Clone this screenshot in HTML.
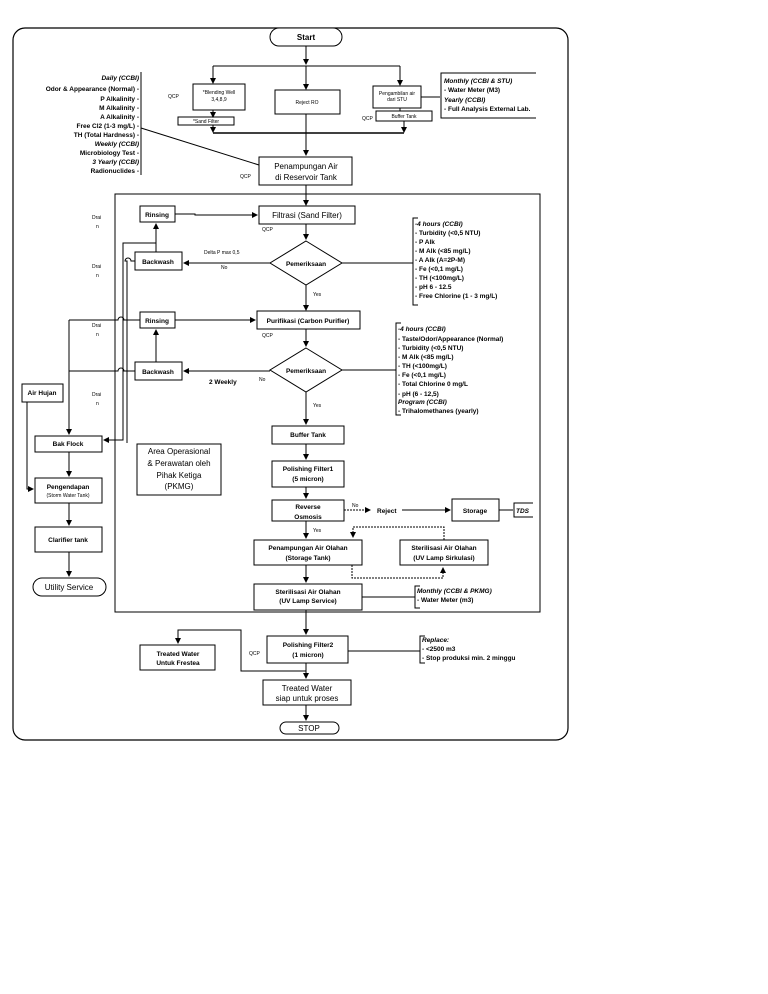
<!DOCTYPE html>
<html><head><meta charset="utf-8"><style>
html,body{margin:0;padding:0;background:#fff;}
svg{display:block;}
text{font-family:"Liberation Sans",sans-serif;fill:#000;}
.s{font-size:6.5px;font-weight:bold;}
.t{font-size:5px;}
.m{font-size:8px;}
</style></head><body>
<svg width="768" height="994" viewBox="0 0 768 994" xmlns="http://www.w3.org/2000/svg">
<defs><marker id="a" markerWidth="6" markerHeight="6" refX="5" refY="3" orient="auto" markerUnits="userSpaceOnUse"><path d="M0,0 L6,3 L0,6z" fill="#000"/></marker></defs>
<g fill="none" stroke="#000" stroke-width="1">
<rect x="13" y="28" width="555" height="712" rx="12" stroke-width="1.2"/>
<rect x="115" y="194" width="425" height="418"/>
<!-- top -->
<rect x="270" y="28" width="72" height="18" rx="9" fill="#fff"/>
<line x1="306" y1="46" x2="306" y2="64" marker-end="url(#a)"/>
<line x1="213" y1="66" x2="400" y2="66"/>
<line x1="213" y1="66" x2="213" y2="83" marker-end="url(#a)"/>
<line x1="306" y1="66" x2="306" y2="89" marker-end="url(#a)"/>
<line x1="400" y1="66" x2="400" y2="85" marker-end="url(#a)"/>
<rect x="193" y="84" width="52" height="26"/>
<line x1="213" y1="110" x2="213" y2="117" marker-end="url(#a)"/>
<rect x="178" y="117" width="56" height="8"/>
<rect x="275" y="90" width="65" height="24"/>
<rect x="373" y="86" width="48" height="22"/>
<line x1="400" y1="108" x2="400" y2="111" />
<rect x="376" y="111" width="56" height="10"/>
<line x1="421" y1="97" x2="440" y2="97"/>
<path d="M536,73 H441 V118 H536"/>
<line x1="213" y1="125" x2="213" y2="132" marker-end="url(#a)"/>
<line x1="404" y1="121" x2="404" y2="132" marker-end="url(#a)"/>
<line x1="306" y1="114" x2="306" y2="155" marker-end="url(#a)"/>
<line x1="213" y1="133" x2="404" y2="133" stroke-width="1.5"/>
<rect x="259" y="157" width="93" height="28"/>
<path d="M141,72 V175"/>
<line x1="141" y1="128" x2="259" y2="165"/>
<line x1="306" y1="185" x2="306" y2="205" marker-end="url(#a)"/>
<!-- filtrasi -->
<rect x="259" y="206" width="96" height="18"/>
<rect x="140" y="206" width="35" height="16"/>
<path d="M175,214 H195 V215 H257" marker-end="url(#a)"/>
<line x1="306" y1="224" x2="306" y2="239" marker-end="url(#a)"/>
<path d="M306,241 L342,263 L306,285 L270,263 Z"/>
<line x1="270" y1="263" x2="184" y2="263" marker-end="url(#a)"/>
<rect x="135" y="252" width="47" height="18"/>
<line x1="342" y1="263" x2="413" y2="263"/>
<path d="M418,218 H413 V305 H418"/>
<line x1="156" y1="252" x2="156" y2="224" marker-end="url(#a)"/>
<line x1="306" y1="285" x2="306" y2="310" marker-end="url(#a)"/>
<!-- purifikasi -->
<rect x="257" y="311" width="103" height="18"/>
<rect x="140" y="312" width="35" height="16"/>
<line x1="175" y1="320" x2="255" y2="320" marker-end="url(#a)"/>
<line x1="306" y1="329" x2="306" y2="346" marker-end="url(#a)"/>
<path d="M306,348 L342,370 L306,392 L270,370 Z"/>
<line x1="270" y1="371" x2="184" y2="371" marker-end="url(#a)"/>
<rect x="135" y="362" width="47" height="18"/>
<line x1="342" y1="370" x2="396" y2="370"/>
<path d="M401,323 H396 V415 H401"/>
<line x1="156" y1="362" x2="156" y2="330" marker-end="url(#a)"/>
<line x1="306" y1="392" x2="306" y2="424" marker-end="url(#a)"/>
<!-- left drains -->
<path d="M156,243 H123 V440 H104" marker-end="url(#a)"/>
<path d="M135,261 H131 a3,3 0 0 0 -6,0 H127 V443"/>
<path d="M69,320 H118 a3,3 0 0 1 6,0 H140"/>
<path d="M69,371 H118 a3,3 0 0 1 6,0 H135"/>
<line x1="69" y1="320" x2="69" y2="434" marker-end="url(#a)"/>
<rect x="22" y="384" width="41" height="18"/>
<path d="M27,402 V489 H33" marker-end="url(#a)"/>
<rect x="35" y="436" width="67" height="16"/>
<line x1="69" y1="452" x2="69" y2="476" marker-end="url(#a)"/>
<rect x="35" y="478" width="67" height="25"/>
<line x1="69" y1="503" x2="69" y2="525" marker-end="url(#a)"/>
<rect x="35" y="527" width="67" height="25"/>
<line x1="69" y1="552" x2="69" y2="576" marker-end="url(#a)"/>
<rect x="33" y="578" width="73" height="18" rx="9"/>
<rect x="137" y="444" width="84" height="51"/>
<!-- lower chain -->
<rect x="272" y="426" width="72" height="18"/>
<line x1="306" y1="444" x2="306" y2="459" marker-end="url(#a)"/>
<rect x="272" y="461" width="72" height="26"/>
<line x1="306" y1="487" x2="306" y2="498" marker-end="url(#a)"/>
<rect x="272" y="500" width="72" height="21"/>
<line x1="344" y1="510" x2="370" y2="510" stroke-dasharray="2,1" marker-end="url(#a)"/>
<line x1="402" y1="510" x2="450" y2="510" marker-end="url(#a)"/>
<rect x="452" y="499" width="47" height="22"/>
<line x1="499" y1="510" x2="513" y2="510"/>
<path d="M533,503 H514 V517 H533"/>
<line x1="306" y1="521" x2="306" y2="538" marker-end="url(#a)"/>
<rect x="254" y="540" width="108" height="25"/>
<rect x="400" y="540" width="88" height="25"/>
<path d="M444,540 V527 H353 V537" stroke-dasharray="2,1" marker-end="url(#a)"/>
<path d="M352,565 V578 H443 V568" stroke-dasharray="2,1" marker-end="url(#a)"/>
<line x1="306" y1="565" x2="306" y2="582" marker-end="url(#a)"/>
<rect x="254" y="584" width="108" height="26"/>
<line x1="362" y1="597" x2="415" y2="597"/>
<path d="M420,586 H415 V608 H420"/>
<line x1="306" y1="610" x2="306" y2="634" marker-end="url(#a)"/>
<rect x="267" y="636" width="81" height="27"/>
<line x1="348" y1="651" x2="420" y2="651"/>
<path d="M425,636 H420 V663 H425"/>
<path d="M306,663 V671 H241 V630 H178 V643" marker-end="url(#a)"/>
<rect x="140" y="645" width="75" height="25"/>
<line x1="306" y1="671" x2="306" y2="678" marker-end="url(#a)"/>
<rect x="263" y="680" width="88" height="25"/>
<line x1="306" y1="705" x2="306" y2="720" marker-end="url(#a)"/>
<rect x="280" y="722" width="59" height="12" rx="6"/>
</g>
<g>
<text class="m" x="306" y="40" text-anchor="middle" font-weight="bold">Start</text>
<text class="t" x="219" y="94" text-anchor="middle">*Blending Well</text>
<text class="t" x="219" y="101" text-anchor="middle">3,4,8,9</text>
<text class="t" x="206" y="123" text-anchor="middle">*Sand Filter</text>
<text class="t" x="307" y="104" text-anchor="middle">Reject RO</text>
<text class="t" x="397" y="95" text-anchor="middle">Pengambilan air</text>
<text class="t" x="397" y="101" text-anchor="middle">dari STU</text>
<text class="t" x="404" y="118" text-anchor="middle">Buffer Tank</text>
<text class="t" x="168" y="98">QCP</text>
<text class="t" x="362" y="120">QCP</text>
<text class="t" x="240" y="178">QCP</text>
<text class="s" x="444" y="83" font-style="italic">Monthly (CCBI &amp; STU)</text>
<text class="s" x="444" y="92">- Water Meter (M3)</text>
<text class="s" x="444" y="102" font-style="italic">Yearly (CCBI)</text>
<text class="s" x="444" y="111">- Full Analysis External Lab.</text>
<g text-anchor="end">
<text class="s" x="139" y="80" font-style="italic">Daily (CCBI)</text>
<text class="s" x="139" y="91">Odor &amp; Appearance (Normal) -</text>
<text class="s" x="139" y="101">P Alkalinity -</text>
<text class="s" x="139" y="110">M Alkalinity -</text>
<text class="s" x="139" y="119">A Alkalinity -</text>
<text class="s" x="139" y="128">Free Cl2 (1-3 mg/L) -</text>
<text class="s" x="139" y="137">TH (Total Hardness) -</text>
<text class="s" x="139" y="146" font-style="italic">Weekly (CCBI)</text>
<text class="s" x="139" y="155">Microbiology Test -</text>
<text class="s" x="139" y="164" font-style="italic">3 Yearly (CCBI)</text>
<text class="s" x="139" y="173">Radionuclides -</text>
</g>
<text class="m" x="306" y="169" text-anchor="middle">Penampungan Air</text>
<text class="m" x="306" y="180" text-anchor="middle">di Reservoir Tank</text>
<text class="m" x="307" y="218" text-anchor="middle">Filtrasi (Sand Filter)</text>
<text class="s" x="157" y="217" text-anchor="middle">Rinsing</text>
<text class="t" x="262" y="231">QCP</text>
<text class="s" x="306" y="266" text-anchor="middle">Pemeriksaan</text>
<text class="s" x="158" y="264" text-anchor="middle">Backwash</text>
<text class="t" x="204" y="254">Delta P max 0,5</text>
<text class="t" x="221" y="269">No</text>
<text class="t" x="313" y="296">Yes</text>
<g class="s"><text x="415" y="226" font-style="italic">-4 hours (CCBI)</text>
<text x="415" y="235">- Turbidity (&lt;0,5 NTU)</text>
<text x="415" y="244">- P Alk</text>
<text x="415" y="253">- M Alk (&lt;85 mg/L)</text>
<text x="415" y="262">- A Alk (A=2P-M)</text>
<text x="415" y="271">- Fe (&lt;0,1 mg/L)</text>
<text x="415" y="280">- TH (&lt;100mg/L)</text>
<text x="415" y="289">- pH 6 - 12.5</text>
<text x="415" y="298">- Free Chlorine (1 - 3 mg/L)</text></g>
<text class="s" x="308" y="323" text-anchor="middle">Purifikasi (Carbon Purifier)</text>
<text class="s" x="157" y="323" text-anchor="middle">Rinsing</text>
<text class="t" x="262" y="337">QCP</text>
<text class="s" x="306" y="373" text-anchor="middle">Pemeriksaan</text>
<text class="s" x="158" y="374" text-anchor="middle">Backwash</text>
<text class="s" x="209" y="384">2 Weekly</text>
<text class="t" x="259" y="381">No</text>
<text class="t" x="313" y="407">Yes</text>
<g class="s"><text x="398" y="331" font-style="italic">-4 hours (CCBI)</text>
<text x="398" y="341">- Taste/Odor/Appearance (Normal)</text>
<text x="398" y="350">- Turbidity (&lt;0,5 NTU)</text>
<text x="398" y="359">- M Alk (&lt;85 mg/L)</text>
<text x="398" y="368">- TH (&lt;100mg/L)</text>
<text x="398" y="377">- Fe (&lt;0,1 mg/L)</text>
<text x="398" y="386">- Total Chlorine 0 mg/L</text>
<text x="398" y="396">- pH (6 - 12,5)</text>
<text x="398" y="404" font-style="italic">Program (CCBI)</text>
<text x="398" y="413">- Trihalomethanes (yearly)</text></g>
<g class="t" font-size="6"><text x="92" y="219">Drai</text><text x="96" y="228">n</text>
<text x="92" y="268">Drai</text><text x="96" y="277">n</text>
<text x="92" y="327">Drai</text><text x="96" y="336">n</text>
<text x="92" y="396">Drai</text><text x="96" y="405">n</text></g>
<text class="s" x="42" y="395" text-anchor="middle">Air Hujan</text>
<text class="s" x="68" y="446" text-anchor="middle">Bak Flock</text>
<text class="s" x="68" y="489" text-anchor="middle">Pengendapan</text>
<text class="t" x="68" y="497" text-anchor="middle">(Storm Water Tank)</text>
<text class="s" x="68" y="542" text-anchor="middle">Clarifier tank</text>
<text class="m" x="69" y="590" text-anchor="middle">Utility Service</text>
<g class="m" text-anchor="middle"><text x="179" y="454">Area Operasional</text><text x="179" y="466">&amp; Perawatan oleh</text><text x="179" y="478">Pihak Ketiga</text><text x="179" y="489">(PKMG)</text></g>
<text class="s" x="308" y="437" text-anchor="middle">Buffer Tank</text>
<text class="s" x="308" y="471" text-anchor="middle">Polishing Filter1</text>
<text class="s" x="308" y="481" text-anchor="middle">(5 micron)</text>
<text class="s" x="308" y="509" text-anchor="middle">Reverse</text>
<text class="s" x="308" y="519" text-anchor="middle">Osmosis</text>
<text class="t" x="352" y="507">No</text>
<text class="s" x="377" y="513">Reject</text>
<text class="s" x="475" y="513" text-anchor="middle">Storage</text>
<text class="s" x="516" y="513" font-style="italic">TDS</text>
<text class="t" x="313" y="532">Yes</text>
<text class="s" x="308" y="550" text-anchor="middle">Penampungan Air Olahan</text>
<text class="s" x="308" y="560" text-anchor="middle">(Storage Tank)</text>
<text class="s" x="444" y="550" text-anchor="middle">Sterilisasi Air Olahan</text>
<text class="s" x="444" y="560" text-anchor="middle">(UV Lamp Sirkulasi)</text>
<text class="s" x="308" y="594" text-anchor="middle">Sterilisasi Air Olahan</text>
<text class="s" x="308" y="603" text-anchor="middle">(UV Lamp Service)</text>
<text class="s" x="417" y="593" font-style="italic">Monthly (CCBI &amp; PKMG)</text>
<text class="s" x="417" y="602">- Water Meter (m3)</text>
<text class="s" x="308" y="647" text-anchor="middle">Polishing Filter2</text>
<text class="s" x="308" y="657" text-anchor="middle">(1 micron)</text>
<text class="t" x="249" y="655">QCP</text>
<text class="s" x="178" y="656" text-anchor="middle">Treated Water</text>
<text class="s" x="178" y="665" text-anchor="middle">Untuk Frestea</text>
<text class="s" x="422" y="642" font-style="italic">Replace:</text>
<text class="s" x="422" y="651">- &lt;2500 m3</text>
<text class="s" x="422" y="660">- Stop produksi min. 2 minggu</text>
<text class="m" x="307" y="691" text-anchor="middle">Treated Water</text>
<text class="m" x="307" y="701" text-anchor="middle">siap untuk proses</text>
<text class="m" x="309" y="731" text-anchor="middle">STOP</text>
</g>
</svg>
</body></html>
